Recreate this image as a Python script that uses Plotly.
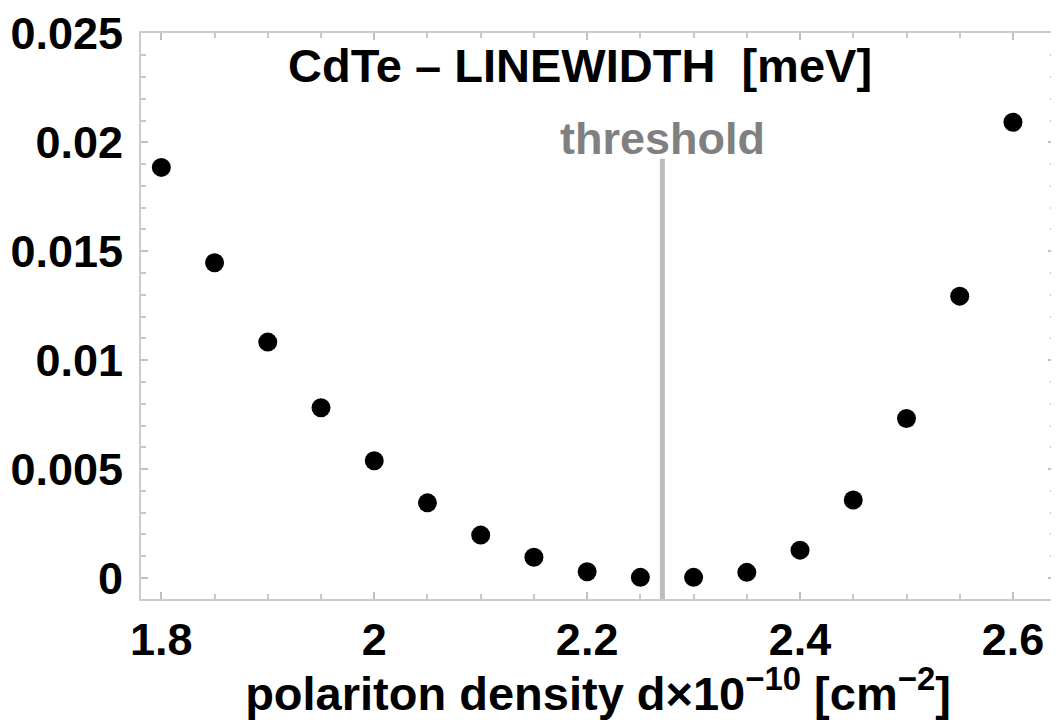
import plotly.graph_objects as go

density = [1.80, 1.85, 1.90, 1.95, 2.00, 2.05, 2.10, 2.15, 2.20, 2.25, 2.30, 2.35, 2.40, 2.45, 2.50, 2.55, 2.60]
linewidth = [0.01885, 0.01447, 0.01083, 0.00782, 0.00538, 0.00345, 0.00197, 0.00095, 0.00029, 0.00003,
             0.00003, 0.00026, 0.00128, 0.00358, 0.00732, 0.01294, 0.02092]
threshold_x = 2.2707
threshold_top = 0.01925
x_tickvals = [1.8, 2.0, 2.2, 2.4, 2.6]
x_ticktext = ["1.8", "2", "2.2", "2.4", "2.6"]
y_tickvals = [0, 0.005, 0.01, 0.015, 0.02, 0.025]
y_ticktext = ["0", "0.005", "0.01", "0.015", "0.02", "0.025"]

FONT = "Liberation Sans"
FS = 45

fig = go.Figure()
fig.add_trace(go.Scatter(x=density, y=linewidth, mode="markers",
                         marker=dict(color="black", size=19), showlegend=False))

fig.add_shape(type="line", xref="x", yref="y", x0=threshold_x, x1=threshold_x,
              y0=-0.000963, y1=threshold_top, line=dict(color="#bdbdbd", width=5), layer="below")

fig.add_annotation(x=threshold_x, y=0.0202, xref="x", yref="y", text="threshold",
                   showarrow=False, xanchor="center", yanchor="middle",
                   font=dict(family=FONT, size=FS, color="#808080", weight="bold"))

fig.add_annotation(x=0.48, y=0.943, xref="paper", yref="paper",
                   text="CdTe \u2013 LINEWIDTH \u00a0[meV]",
                   showarrow=False, xanchor="center", yanchor="middle",
                   font=dict(family=FONT, size=47, color="black", weight="bold"))

axis_common = dict(showline=True, mirror="ticks", linecolor="#cccccc", linewidth=2,
                   ticks="inside", tickcolor="#c0c0c0", tickwidth=1.5, ticklen=7,
                   showgrid=False, zeroline=False,
                   tickfont=dict(family=FONT, size=FS, color="black", weight="bold"))

fig.update_xaxes(range=[1.7809, 2.6395], tickvals=x_tickvals, ticktext=x_ticktext,
                 minor=dict(dtick=0.05, tick0=1.8, ticks="inside", ticklen=5, tickcolor="#c8c8c8"),
                 ticklabelstandoff=0,
                 title=dict(text="polariton density d\u00d710<sup>\u221210</sup> [cm<sup>\u22122</sup>]",
                            font=dict(family=FONT, size=47, color="black", weight="bold"),
                            standoff=15),
                 **axis_common)
fig.update_yaxes(range=[-0.000963, 0.02502], tickvals=y_tickvals, ticktext=y_ticktext,
                 minor=dict(dtick=0.001, tick0=0, ticks="inside", ticklen=5, tickcolor="#c8c8c8"),
                 ticklabelstandoff=7,
                 **axis_common)

# page body has an 8px default margin, so the figure is drawn 8px smaller and shifted
fig.update_layout(width=1051, height=712, margin=dict(l=133, r=4, t=25, b=121, autoexpand=False),
                  paper_bgcolor="white", plot_bgcolor="white",
                  font=dict(family=FONT, size=FS, weight="bold"))

fig.write_html("out.html")
